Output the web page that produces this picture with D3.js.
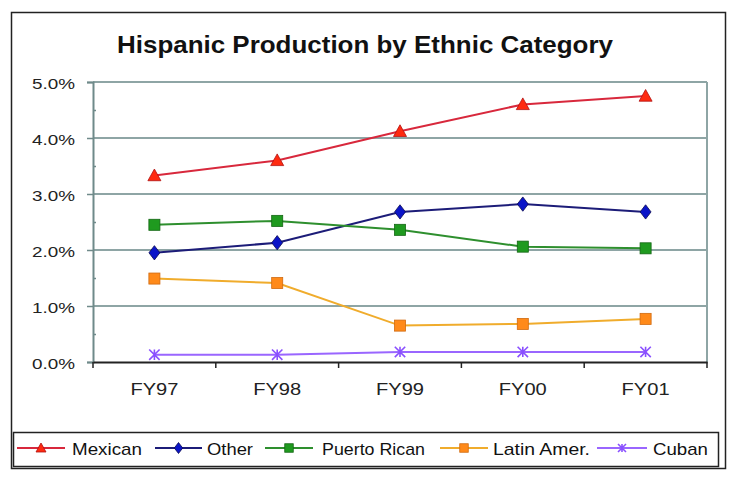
<!DOCTYPE html>
<html><head><meta charset="utf-8">
<script src="https://cdn.jsdelivr.net/npm/d3@7"></script>
<style>body{margin:0;background:#fff;} svg{display:block;}</style>
</head><body>
<svg id="c" width="736" height="477"></svg>
<script>
const categories = ["FY97","FY98","FY99","FY00","FY01"];
const mexican = [3.33, 3.60, 4.12, 4.60, 4.75];
const other = [1.95, 2.13, 2.68, 2.82, 2.68];
const puertoRican = [2.45, 2.52, 2.36, 2.06, 2.03];
const latinAmer = [1.49, 1.41, 0.65, 0.68, 0.77];
const cuban = [0.13, 0.13, 0.18, 0.18, 0.18];
const seriesNames = ["Mexican","Other","Puerto Rican","Latin Amer.","Cuban"];
const yTicks = [0,1,2,3,4,5];
const title = "Hispanic Production by Ethnic Category";

const series = [
  {name: seriesNames[0], values: mexican, line: "#d8283c", fill: "#ff2a10", stroke: "#b01010", marker: "triangle"},
  {name: seriesNames[1], values: other, line: "#1c1c78", fill: "#0a14c8", stroke: "#0a0a50", marker: "diamond"},
  {name: seriesNames[2], values: puertoRican, line: "#2e8f2e", fill: "#1f9a1f", stroke: "#146614", marker: "square"},
  {name: seriesNames[3], values: latinAmer, line: "#f0ac2c", fill: "#ff8a1a", stroke: "#d06a10", marker: "square"},
  {name: seriesNames[4], values: cuban, line: "#9a66ff", fill: "#9a66ff", stroke: "#8a50ff", marker: "x"}
];

const font = "'Liberation Sans',Arial,sans-serif";
const narrow = "'Liberation Sans Narrow','Liberation Sans',Arial,sans-serif";
const svg = d3.select("#c");
// outer border
svg.append("rect").attr("x",11.5).attr("y",12.5).attr("width",714).attr("height",456)
  .attr("fill","#fff").attr("stroke","#222").attr("stroke-width",1.5);

svg.append("text").attr("x",365).attr("y",53).attr("text-anchor","middle")
  .attr("font-family",narrow)
  .attr("font-weight","bold").attr("font-size",24).attr("fill","#111")
  .attr("textLength",496).attr("lengthAdjust","spacingAndGlyphs")
  .text(title);

const L = 93, R = 707, T = 82, B = 362;
const x = d3.scaleBand().domain(categories).range([L,R]);
const y = d3.scaleLinear().domain([0,5]).range([B,T]);

// gridlines
svg.append("g").selectAll("line").data(yTicks.filter(d=>d>0)).join("line")
  .attr("x1",L).attr("x2",R).attr("y1",d=>y(d)).attr("y2",d=>y(d))
  .attr("stroke","#8ea5a5").attr("stroke-width",2);
svg.append("line").attr("x1",R).attr("x2",R).attr("y1",T).attr("y2",B).attr("stroke","#8ea5a5").attr("stroke-width",2);

// y axis
const yAxis = d3.axisLeft(y).tickValues(yTicks).tickSize(6).tickPadding(12)
  .tickFormat(d=>d3.format(".1f")(d)+"%");
const ya = svg.append("g").attr("transform",`translate(${L},0)`).call(yAxis);
ya.select(".domain").attr("stroke","#6f8a8a").attr("stroke-width",2);
ya.selectAll(".tick line").attr("stroke","#6f8a8a").attr("stroke-width",1.5);
ya.selectAll("text").attr("font-family",font).attr("font-size",15).attr("fill","#222")
  .attr("dy","0.45em").attr("textLength",43).attr("lengthAdjust","spacingAndGlyphs");
const yMinor = d3.axisRight(y).tickValues([0.5,1.5,2.5,3.5,4.5]).tickSize(3).tickFormat("");
const ym = svg.append("g").attr("transform",`translate(${L},0)`).call(yMinor);
ym.select(".domain").remove();
ym.selectAll(".tick line").attr("stroke","#6f8a8a").attr("stroke-width",1.5);

// x axis
const xAxis = d3.axisBottom(x).tickSize(0).tickPadding(21);
const xa = svg.append("g").attr("transform",`translate(0,${B})`).call(xAxis);
xa.select(".domain").attr("stroke","#222").attr("stroke-width",2);
xa.selectAll("text").attr("font-family",font).attr("font-size",17).attr("fill","#222")
  .attr("textLength",48).attr("lengthAdjust","spacingAndGlyphs");
const bounds = categories.map(c=>x(c)).concat([x(categories[categories.length-1])+x.bandwidth()]);
svg.append("g").selectAll("line").data(bounds).join("line")
  .attr("x1",d=>d).attr("x2",d=>d).attr("y1",B).attr("y2",B+6).attr("stroke","#222").attr("stroke-width",1.5);

const cx = c => x(c) + x.bandwidth()/2;

function drawMarker(sel, s, size) {
  const type = s.marker;
  if (type === "triangle") {
    const h = size*0.5;
    sel.append("path").attr("d", `M0,${-h}L${h},${h*0.8}L${-h},${h*0.8}Z`)
      .attr("fill", s.fill).attr("stroke", s.stroke).attr("stroke-width",0.8);
  } else if (type === "diamond") {
    sel.append("path").attr("d", `M0,${-size*0.55}L${size*0.42},0L0,${size*0.55}L${-size*0.42},0Z`)
      .attr("fill", s.fill).attr("stroke", s.stroke).attr("stroke-width",0.8);
  } else if (type === "square") {
    const sz = size*0.85;
    sel.append("rect").attr("x",-sz/2).attr("y",-sz/2).attr("width",sz).attr("height",sz)
      .attr("fill", s.fill).attr("stroke", s.stroke).attr("stroke-width",0.8);
  } else if (type === "x") {
    const r = size*0.4;
    sel.append("path").attr("d",`M${-r},${-r}L${r},${r}M${-r},${r}L${r},${-r}M0,${-r}L0,${r}`)
      .attr("stroke", s.stroke).attr("stroke-width",1.6).attr("fill","none");
  }
}

const lineGen = d3.line().x((d,i)=>cx(categories[i])).y(d=>y(d));
series.forEach(s => {
  svg.append("path").attr("d", lineGen(s.values)).attr("fill","none")
    .attr("stroke", s.line).attr("stroke-width",2);
  s.values.forEach((v,i) => {
    const gm = svg.append("g").attr("transform",`translate(${cx(categories[i])},${y(v)})`);
    drawMarker(gm, s, 13);
  });
});

// legend
svg.append("rect").attr("x",13.5).attr("y",432.5).attr("width",705).attr("height",34)
  .attr("fill","#fff").attr("stroke","#222").attr("stroke-width",1.5);
const legLine = [[17,65],[155,202],[265,313],[440,488],[597,647]];
const legText = [[72,70],[207,46],[322,103],[493,97],[653,55]];
series.forEach((s,i) => {
  const lg = svg.append("g").attr("transform",`translate(0,448)`);
  lg.append("line").attr("x1",legLine[i][0]).attr("x2",legLine[i][1]).attr("y1",0).attr("y2",0)
    .attr("stroke",s.line).attr("stroke-width",2);
  const gm = lg.append("g").attr("transform",`translate(${(legLine[i][0]+legLine[i][1])/2},0)`);
  drawMarker(gm, s, 10);
  lg.append("text").attr("x",legText[i][0]).attr("y",6.5).attr("font-family",font)
    .attr("font-size",17).attr("fill","#111")
    .attr("textLength",legText[i][1]).attr("lengthAdjust","spacingAndGlyphs").text(s.name);
});
</script>
</body></html>
